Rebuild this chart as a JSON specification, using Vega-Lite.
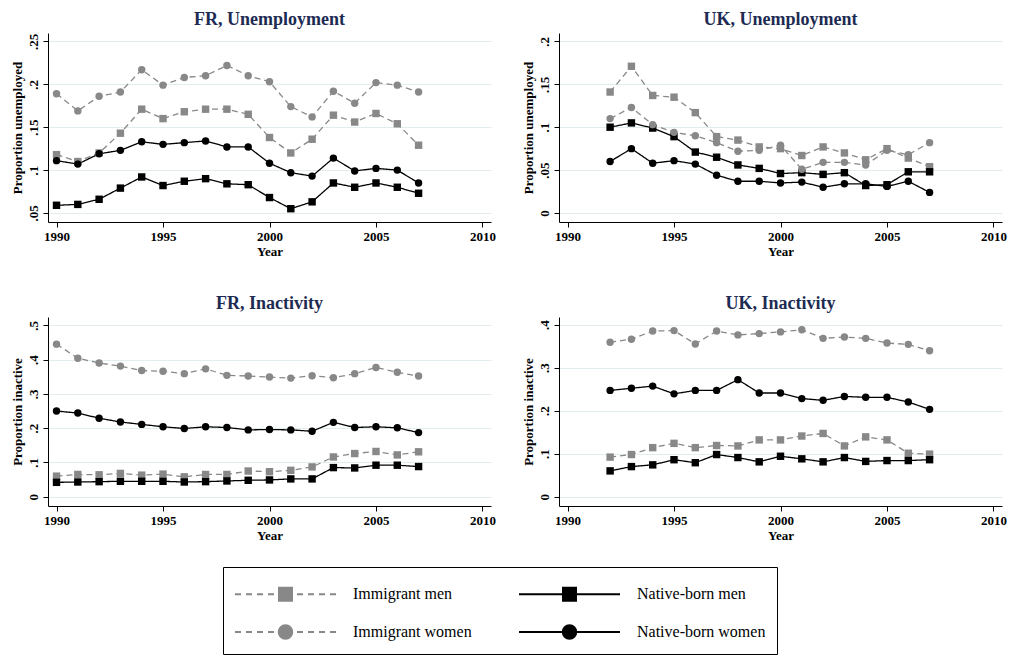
{
  "$schema": "https://vega.github.io/schema/vega-lite/v6.json",
  "background": "white",
  "padding": {"left": 11, "top": 11, "right": 0, "bottom": 0},
  "autosize": {"type": "pad"},
  "datasets": {
    "FR_unemployment": [
      {"series": "Immigrant men", "year": 1990, "value": 0.118},
      {"series": "Immigrant men", "year": 1991, "value": 0.110},
      {"series": "Immigrant men", "year": 1992, "value": 0.120},
      {"series": "Immigrant men", "year": 1993, "value": 0.143},
      {"series": "Immigrant men", "year": 1994, "value": 0.171},
      {"series": "Immigrant men", "year": 1995, "value": 0.160},
      {"series": "Immigrant men", "year": 1996, "value": 0.168},
      {"series": "Immigrant men", "year": 1997, "value": 0.171},
      {"series": "Immigrant men", "year": 1998, "value": 0.171},
      {"series": "Immigrant men", "year": 1999, "value": 0.165},
      {"series": "Immigrant men", "year": 2000, "value": 0.138},
      {"series": "Immigrant men", "year": 2001, "value": 0.120},
      {"series": "Immigrant men", "year": 2002, "value": 0.136},
      {"series": "Immigrant men", "year": 2003, "value": 0.164},
      {"series": "Immigrant men", "year": 2004, "value": 0.156},
      {"series": "Immigrant men", "year": 2005, "value": 0.166},
      {"series": "Immigrant men", "year": 2006, "value": 0.154},
      {"series": "Immigrant men", "year": 2007, "value": 0.129},
      {"series": "Immigrant women", "year": 1990, "value": 0.189},
      {"series": "Immigrant women", "year": 1991, "value": 0.169},
      {"series": "Immigrant women", "year": 1992, "value": 0.186},
      {"series": "Immigrant women", "year": 1993, "value": 0.191},
      {"series": "Immigrant women", "year": 1994, "value": 0.217},
      {"series": "Immigrant women", "year": 1995, "value": 0.199},
      {"series": "Immigrant women", "year": 1996, "value": 0.208},
      {"series": "Immigrant women", "year": 1997, "value": 0.210},
      {"series": "Immigrant women", "year": 1998, "value": 0.222},
      {"series": "Immigrant women", "year": 1999, "value": 0.210},
      {"series": "Immigrant women", "year": 2000, "value": 0.203},
      {"series": "Immigrant women", "year": 2001, "value": 0.174},
      {"series": "Immigrant women", "year": 2002, "value": 0.162},
      {"series": "Immigrant women", "year": 2003, "value": 0.192},
      {"series": "Immigrant women", "year": 2004, "value": 0.178},
      {"series": "Immigrant women", "year": 2005, "value": 0.202},
      {"series": "Immigrant women", "year": 2006, "value": 0.199},
      {"series": "Immigrant women", "year": 2007, "value": 0.191},
      {"series": "Native-born men", "year": 1990, "value": 0.059},
      {"series": "Native-born men", "year": 1991, "value": 0.060},
      {"series": "Native-born men", "year": 1992, "value": 0.066},
      {"series": "Native-born men", "year": 1993, "value": 0.079},
      {"series": "Native-born men", "year": 1994, "value": 0.092},
      {"series": "Native-born men", "year": 1995, "value": 0.082},
      {"series": "Native-born men", "year": 1996, "value": 0.087},
      {"series": "Native-born men", "year": 1997, "value": 0.090},
      {"series": "Native-born men", "year": 1998, "value": 0.084},
      {"series": "Native-born men", "year": 1999, "value": 0.083},
      {"series": "Native-born men", "year": 2000, "value": 0.068},
      {"series": "Native-born men", "year": 2001, "value": 0.055},
      {"series": "Native-born men", "year": 2002, "value": 0.063},
      {"series": "Native-born men", "year": 2003, "value": 0.085},
      {"series": "Native-born men", "year": 2004, "value": 0.080},
      {"series": "Native-born men", "year": 2005, "value": 0.085},
      {"series": "Native-born men", "year": 2006, "value": 0.080},
      {"series": "Native-born men", "year": 2007, "value": 0.073},
      {"series": "Native-born women", "year": 1990, "value": 0.111},
      {"series": "Native-born women", "year": 1991, "value": 0.107},
      {"series": "Native-born women", "year": 1992, "value": 0.119},
      {"series": "Native-born women", "year": 1993, "value": 0.123},
      {"series": "Native-born women", "year": 1994, "value": 0.133},
      {"series": "Native-born women", "year": 1995, "value": 0.130},
      {"series": "Native-born women", "year": 1996, "value": 0.132},
      {"series": "Native-born women", "year": 1997, "value": 0.134},
      {"series": "Native-born women", "year": 1998, "value": 0.127},
      {"series": "Native-born women", "year": 1999, "value": 0.127},
      {"series": "Native-born women", "year": 2000, "value": 0.108},
      {"series": "Native-born women", "year": 2001, "value": 0.097},
      {"series": "Native-born women", "year": 2002, "value": 0.093},
      {"series": "Native-born women", "year": 2003, "value": 0.114},
      {"series": "Native-born women", "year": 2004, "value": 0.099},
      {"series": "Native-born women", "year": 2005, "value": 0.102},
      {"series": "Native-born women", "year": 2006, "value": 0.100},
      {"series": "Native-born women", "year": 2007, "value": 0.085}
    ],
    "UK_unemployment": [
      {"series": "Immigrant men", "year": 1992, "value": 0.141},
      {"series": "Immigrant men", "year": 1993, "value": 0.171},
      {"series": "Immigrant men", "year": 1994, "value": 0.137},
      {"series": "Immigrant men", "year": 1995, "value": 0.135},
      {"series": "Immigrant men", "year": 1996, "value": 0.117},
      {"series": "Immigrant men", "year": 1997, "value": 0.089},
      {"series": "Immigrant men", "year": 1998, "value": 0.085},
      {"series": "Immigrant men", "year": 1999, "value": 0.077},
      {"series": "Immigrant men", "year": 2000, "value": 0.075},
      {"series": "Immigrant men", "year": 2001, "value": 0.067},
      {"series": "Immigrant men", "year": 2002, "value": 0.077},
      {"series": "Immigrant men", "year": 2003, "value": 0.070},
      {"series": "Immigrant men", "year": 2004, "value": 0.062},
      {"series": "Immigrant men", "year": 2005, "value": 0.075},
      {"series": "Immigrant men", "year": 2006, "value": 0.064},
      {"series": "Immigrant men", "year": 2007, "value": 0.054},
      {"series": "Immigrant women", "year": 1992, "value": 0.110},
      {"series": "Immigrant women", "year": 1993, "value": 0.123},
      {"series": "Immigrant women", "year": 1994, "value": 0.103},
      {"series": "Immigrant women", "year": 1995, "value": 0.094},
      {"series": "Immigrant women", "year": 1996, "value": 0.090},
      {"series": "Immigrant women", "year": 1997, "value": 0.082},
      {"series": "Immigrant women", "year": 1998, "value": 0.072},
      {"series": "Immigrant women", "year": 1999, "value": 0.073},
      {"series": "Immigrant women", "year": 2000, "value": 0.079},
      {"series": "Immigrant women", "year": 2001, "value": 0.051},
      {"series": "Immigrant women", "year": 2002, "value": 0.059},
      {"series": "Immigrant women", "year": 2003, "value": 0.059},
      {"series": "Immigrant women", "year": 2004, "value": 0.056},
      {"series": "Immigrant women", "year": 2005, "value": 0.073},
      {"series": "Immigrant women", "year": 2006, "value": 0.068},
      {"series": "Immigrant women", "year": 2007, "value": 0.082},
      {"series": "Native-born men", "year": 1992, "value": 0.100},
      {"series": "Native-born men", "year": 1993, "value": 0.105},
      {"series": "Native-born men", "year": 1994, "value": 0.099},
      {"series": "Native-born men", "year": 1995, "value": 0.089},
      {"series": "Native-born men", "year": 1996, "value": 0.071},
      {"series": "Native-born men", "year": 1997, "value": 0.065},
      {"series": "Native-born men", "year": 1998, "value": 0.056},
      {"series": "Native-born men", "year": 1999, "value": 0.052},
      {"series": "Native-born men", "year": 2000, "value": 0.046},
      {"series": "Native-born men", "year": 2001, "value": 0.047},
      {"series": "Native-born men", "year": 2002, "value": 0.045},
      {"series": "Native-born men", "year": 2003, "value": 0.047},
      {"series": "Native-born men", "year": 2004, "value": 0.032},
      {"series": "Native-born men", "year": 2005, "value": 0.033},
      {"series": "Native-born men", "year": 2006, "value": 0.048},
      {"series": "Native-born men", "year": 2007, "value": 0.048},
      {"series": "Native-born women", "year": 1992, "value": 0.060},
      {"series": "Native-born women", "year": 1993, "value": 0.075},
      {"series": "Native-born women", "year": 1994, "value": 0.058},
      {"series": "Native-born women", "year": 1995, "value": 0.061},
      {"series": "Native-born women", "year": 1996, "value": 0.057},
      {"series": "Native-born women", "year": 1997, "value": 0.044},
      {"series": "Native-born women", "year": 1998, "value": 0.037},
      {"series": "Native-born women", "year": 1999, "value": 0.037},
      {"series": "Native-born women", "year": 2000, "value": 0.035},
      {"series": "Native-born women", "year": 2001, "value": 0.036},
      {"series": "Native-born women", "year": 2002, "value": 0.030},
      {"series": "Native-born women", "year": 2003, "value": 0.034},
      {"series": "Native-born women", "year": 2004, "value": 0.034},
      {"series": "Native-born women", "year": 2005, "value": 0.031},
      {"series": "Native-born women", "year": 2006, "value": 0.037},
      {"series": "Native-born women", "year": 2007, "value": 0.024}
    ],
    "FR_inactivity": [
      {"series": "Immigrant men", "year": 1990, "value": 0.060},
      {"series": "Immigrant men", "year": 1991, "value": 0.065},
      {"series": "Immigrant men", "year": 1992, "value": 0.064},
      {"series": "Immigrant men", "year": 1993, "value": 0.068},
      {"series": "Immigrant men", "year": 1994, "value": 0.063},
      {"series": "Immigrant men", "year": 1995, "value": 0.066},
      {"series": "Immigrant men", "year": 1996, "value": 0.058},
      {"series": "Immigrant men", "year": 1997, "value": 0.065},
      {"series": "Immigrant men", "year": 1998, "value": 0.065},
      {"series": "Immigrant men", "year": 1999, "value": 0.075},
      {"series": "Immigrant men", "year": 2000, "value": 0.073},
      {"series": "Immigrant men", "year": 2001, "value": 0.077},
      {"series": "Immigrant men", "year": 2002, "value": 0.087},
      {"series": "Immigrant men", "year": 2003, "value": 0.116},
      {"series": "Immigrant men", "year": 2004, "value": 0.126},
      {"series": "Immigrant men", "year": 2005, "value": 0.132},
      {"series": "Immigrant men", "year": 2006, "value": 0.122},
      {"series": "Immigrant men", "year": 2007, "value": 0.131},
      {"series": "Immigrant women", "year": 1990, "value": 0.445},
      {"series": "Immigrant women", "year": 1991, "value": 0.404},
      {"series": "Immigrant women", "year": 1992, "value": 0.390},
      {"series": "Immigrant women", "year": 1993, "value": 0.381},
      {"series": "Immigrant women", "year": 1994, "value": 0.368},
      {"series": "Immigrant women", "year": 1995, "value": 0.366},
      {"series": "Immigrant women", "year": 1996, "value": 0.359},
      {"series": "Immigrant women", "year": 1997, "value": 0.373},
      {"series": "Immigrant women", "year": 1998, "value": 0.354},
      {"series": "Immigrant women", "year": 1999, "value": 0.352},
      {"series": "Immigrant women", "year": 2000, "value": 0.349},
      {"series": "Immigrant women", "year": 2001, "value": 0.346},
      {"series": "Immigrant women", "year": 2002, "value": 0.353},
      {"series": "Immigrant women", "year": 2003, "value": 0.347},
      {"series": "Immigrant women", "year": 2004, "value": 0.359},
      {"series": "Immigrant women", "year": 2005, "value": 0.377},
      {"series": "Immigrant women", "year": 2006, "value": 0.363},
      {"series": "Immigrant women", "year": 2007, "value": 0.352},
      {"series": "Native-born men", "year": 1990, "value": 0.042},
      {"series": "Native-born men", "year": 1991, "value": 0.043},
      {"series": "Native-born men", "year": 1992, "value": 0.044},
      {"series": "Native-born men", "year": 1993, "value": 0.045},
      {"series": "Native-born men", "year": 1994, "value": 0.045},
      {"series": "Native-born men", "year": 1995, "value": 0.045},
      {"series": "Native-born men", "year": 1996, "value": 0.043},
      {"series": "Native-born men", "year": 1997, "value": 0.044},
      {"series": "Native-born men", "year": 1998, "value": 0.046},
      {"series": "Native-born men", "year": 1999, "value": 0.048},
      {"series": "Native-born men", "year": 2000, "value": 0.049},
      {"series": "Native-born men", "year": 2001, "value": 0.052},
      {"series": "Native-born men", "year": 2002, "value": 0.052},
      {"series": "Native-born men", "year": 2003, "value": 0.085},
      {"series": "Native-born men", "year": 2004, "value": 0.084},
      {"series": "Native-born men", "year": 2005, "value": 0.092},
      {"series": "Native-born men", "year": 2006, "value": 0.092},
      {"series": "Native-born men", "year": 2007, "value": 0.088},
      {"series": "Native-born women", "year": 1990, "value": 0.250},
      {"series": "Native-born women", "year": 1991, "value": 0.244},
      {"series": "Native-born women", "year": 1992, "value": 0.229},
      {"series": "Native-born women", "year": 1993, "value": 0.218},
      {"series": "Native-born women", "year": 1994, "value": 0.211},
      {"series": "Native-born women", "year": 1995, "value": 0.204},
      {"series": "Native-born women", "year": 1996, "value": 0.199},
      {"series": "Native-born women", "year": 1997, "value": 0.204},
      {"series": "Native-born women", "year": 1998, "value": 0.202},
      {"series": "Native-born women", "year": 1999, "value": 0.195},
      {"series": "Native-born women", "year": 2000, "value": 0.196},
      {"series": "Native-born women", "year": 2001, "value": 0.195},
      {"series": "Native-born women", "year": 2002, "value": 0.191},
      {"series": "Native-born women", "year": 2003, "value": 0.217},
      {"series": "Native-born women", "year": 2004, "value": 0.202},
      {"series": "Native-born women", "year": 2005, "value": 0.204},
      {"series": "Native-born women", "year": 2006, "value": 0.201},
      {"series": "Native-born women", "year": 2007, "value": 0.187}
    ],
    "UK_inactivity": [
      {"series": "Immigrant men", "year": 1992, "value": 0.092},
      {"series": "Immigrant men", "year": 1993, "value": 0.098},
      {"series": "Immigrant men", "year": 1994, "value": 0.114},
      {"series": "Immigrant men", "year": 1995, "value": 0.124},
      {"series": "Immigrant men", "year": 1996, "value": 0.114},
      {"series": "Immigrant men", "year": 1997, "value": 0.119},
      {"series": "Immigrant men", "year": 1998, "value": 0.118},
      {"series": "Immigrant men", "year": 1999, "value": 0.132},
      {"series": "Immigrant men", "year": 2000, "value": 0.132},
      {"series": "Immigrant men", "year": 2001, "value": 0.141},
      {"series": "Immigrant men", "year": 2002, "value": 0.147},
      {"series": "Immigrant men", "year": 2003, "value": 0.118},
      {"series": "Immigrant men", "year": 2004, "value": 0.139},
      {"series": "Immigrant men", "year": 2005, "value": 0.132},
      {"series": "Immigrant men", "year": 2006, "value": 0.101},
      {"series": "Immigrant men", "year": 2007, "value": 0.099},
      {"series": "Immigrant women", "year": 1992, "value": 0.359},
      {"series": "Immigrant women", "year": 1993, "value": 0.366},
      {"series": "Immigrant women", "year": 1994, "value": 0.385},
      {"series": "Immigrant women", "year": 1995, "value": 0.386},
      {"series": "Immigrant women", "year": 1996, "value": 0.355},
      {"series": "Immigrant women", "year": 1997, "value": 0.385},
      {"series": "Immigrant women", "year": 1998, "value": 0.376},
      {"series": "Immigrant women", "year": 1999, "value": 0.379},
      {"series": "Immigrant women", "year": 2000, "value": 0.383},
      {"series": "Immigrant women", "year": 2001, "value": 0.388},
      {"series": "Immigrant women", "year": 2002, "value": 0.368},
      {"series": "Immigrant women", "year": 2003, "value": 0.371},
      {"series": "Immigrant women", "year": 2004, "value": 0.368},
      {"series": "Immigrant women", "year": 2005, "value": 0.357},
      {"series": "Immigrant women", "year": 2006, "value": 0.354},
      {"series": "Immigrant women", "year": 2007, "value": 0.339},
      {"series": "Native-born men", "year": 1992, "value": 0.060},
      {"series": "Native-born men", "year": 1993, "value": 0.070},
      {"series": "Native-born men", "year": 1994, "value": 0.074},
      {"series": "Native-born men", "year": 1995, "value": 0.086},
      {"series": "Native-born men", "year": 1996, "value": 0.079},
      {"series": "Native-born men", "year": 1997, "value": 0.098},
      {"series": "Native-born men", "year": 1998, "value": 0.091},
      {"series": "Native-born men", "year": 1999, "value": 0.081},
      {"series": "Native-born men", "year": 2000, "value": 0.094},
      {"series": "Native-born men", "year": 2001, "value": 0.088},
      {"series": "Native-born men", "year": 2002, "value": 0.081},
      {"series": "Native-born men", "year": 2003, "value": 0.091},
      {"series": "Native-born men", "year": 2004, "value": 0.082},
      {"series": "Native-born men", "year": 2005, "value": 0.084},
      {"series": "Native-born men", "year": 2006, "value": 0.084},
      {"series": "Native-born men", "year": 2007, "value": 0.086},
      {"series": "Native-born women", "year": 1992, "value": 0.247},
      {"series": "Native-born women", "year": 1993, "value": 0.252},
      {"series": "Native-born women", "year": 1994, "value": 0.257},
      {"series": "Native-born women", "year": 1995, "value": 0.239},
      {"series": "Native-born women", "year": 1996, "value": 0.247},
      {"series": "Native-born women", "year": 1997, "value": 0.247},
      {"series": "Native-born women", "year": 1998, "value": 0.272},
      {"series": "Native-born women", "year": 1999, "value": 0.241},
      {"series": "Native-born women", "year": 2000, "value": 0.241},
      {"series": "Native-born women", "year": 2001, "value": 0.228},
      {"series": "Native-born women", "year": 2002, "value": 0.224},
      {"series": "Native-born women", "year": 2003, "value": 0.233},
      {"series": "Native-born women", "year": 2004, "value": 0.231},
      {"series": "Native-born women", "year": 2005, "value": 0.231},
      {"series": "Native-born women", "year": 2006, "value": 0.220},
      {"series": "Native-born women", "year": 2007, "value": 0.203}
    ]
  },
  "columns": 2,
  "spacing": {"row": 95, "column": 68},
  "bounds": "flush",
  "concat": [
    {
      "title": "FR, Unemployment",
      "width": 443, "height": 189,
      "data": {"name": "FR_unemployment"},
      "encoding": {
        "x": {"field": "year", "type": "quantitative", "scale": {"domain": [1989.6, 2010.4], "nice": false, "zero": false}, "axis": {"values": [1990, 1995, 2000, 2005, 2010], "format": "d", "title": "Year"}},
        "y": {"field": "value", "type": "quantitative", "scale": {"domain": [0.0395, 0.2598], "nice": false, "zero": false}, "axis": {"values": [0.05, 0.1, 0.15, 0.2, 0.25], "title": "Proportion unemployed"}},
        "color": {"field": "series", "type": "nominal", "scale": {"domain": ["Native-born women", "Native-born men", "Immigrant women", "Immigrant men"], "range": ["#000000", "#000000", "#888888", "#888888"]}, "legend": null}
      },
      "layer": [
        {"mark": {"type": "line", "strokeWidth": 1.3}, "encoding": {"strokeDash": {"field": "series", "type": "nominal", "scale": {"domain": ["Native-born men", "Native-born women", "Immigrant men", "Immigrant women"], "range": [[1, 0], [1, 0], [6, 4], [6, 4]]}, "legend": null}}},
        {"transform": [{"filter": "datum.series == 'Immigrant men' || datum.series == 'Native-born men'"}], "mark": {"type": "point", "shape": "square", "filled": true, "size": 55, "opacity": 1}},
        {"transform": [{"filter": "datum.series == 'Immigrant women' || datum.series == 'Native-born women'"}], "mark": {"type": "point", "shape": "circle", "filled": true, "size": 55, "opacity": 1}},
        {
          "transform": [{"filter": "false"}],
          "mark": {"type": "point", "filled": true, "opacity": 1},
          "encoding": {
            "fill": {"field": "series", "type": "nominal", "scale": {"domain": ["Immigrant men", "Immigrant women", "Native-born men", "Native-born women"], "range": ["#888888", "#888888", "#000000", "#000000"]}},
            "stroke": {"field": "series", "type": "nominal", "scale": {"domain": ["Immigrant men", "Immigrant women", "Native-born men", "Native-born women"], "range": ["#888888", "#888888", "#000000", "#000000"]}},
            "shape": {"field": "series", "type": "nominal",
              "scale": {"domain": ["Immigrant men", "Immigrant women", "Native-born men", "Native-born women"],
                "range": [
                  "M-3.367,0H-2.967M-2.633,0H-2.233M-1.9,0H-1.5M-1.167,0H-0.767M0.767,0H1.167M1.5,0H1.9M2.233,0H2.633M2.967,0H3.367M-0.433,-0.433H0.433V0.433H-0.433Z",
                  "M-3.367,0H-2.967M-2.633,0H-2.233M-1.9,0H-1.5M-1.167,0H-0.767M0.767,0H1.167M1.5,0H1.9M2.233,0H2.633M2.967,0H3.367M0.45,0A0.45,0.45,0,1,1,-0.45,0A0.45,0.45,0,1,1,0.45,0Z",
                  "M-3.367,0H3.367M-0.433,-0.433H0.433V0.433H-0.433Z",
                  "M-3.367,0H3.367M0.45,0A0.45,0.45,0,1,1,-0.45,0A0.45,0.45,0,1,1,0.45,0Z"
                ]},
              "legend": {
                "title": null, "orient": "none", "legendX": 175, "legendY": 534,
                "columns": 2, "columnPadding": 42, "rowPadding": 11, "padding": 11,
                "strokeColor": "black",
                "symbolSize": 900, "symbolStrokeWidth": 2, "symbolOffset": 35.5, "labelOffset": 51.5,
                "labelFont": "Liberation Serif", "labelFontSize": 16, "labelColor": "black"
              }
            }
          }
        }
      ]
    },
    {
      "title": "UK, Unemployment",
      "width": 443, "height": 189,
      "data": {"name": "UK_unemployment"},
      "encoding": {
        "x": {"field": "year", "type": "quantitative", "scale": {"domain": [1989.6, 2010.4], "nice": false, "zero": false}, "axis": {"values": [1990, 1995, 2000, 2005, 2010], "format": "d", "title": "Year"}},
        "y": {"field": "value", "type": "quantitative", "scale": {"domain": [-0.0105, 0.2098], "nice": false, "zero": false}, "axis": {"values": [0, 0.05, 0.1, 0.15, 0.2], "title": "Proportion unemployed"}},
        "color": {"field": "series", "type": "nominal", "scale": {"domain": ["Native-born women", "Native-born men", "Immigrant women", "Immigrant men"], "range": ["#000000", "#000000", "#888888", "#888888"]}, "legend": null}
      },
      "layer": [
        {"mark": {"type": "line", "strokeWidth": 1.3}, "encoding": {"strokeDash": {"field": "series", "type": "nominal", "scale": {"domain": ["Native-born men", "Native-born women", "Immigrant men", "Immigrant women"], "range": [[1, 0], [1, 0], [6, 4], [6, 4]]}, "legend": null}}},
        {"transform": [{"filter": "datum.series == 'Immigrant men' || datum.series == 'Native-born men'"}], "mark": {"type": "point", "shape": "square", "filled": true, "size": 55, "opacity": 1}},
        {"transform": [{"filter": "datum.series == 'Immigrant women' || datum.series == 'Native-born women'"}], "mark": {"type": "point", "shape": "circle", "filled": true, "size": 55, "opacity": 1}}
      ]
    },
    {
      "title": "FR, Inactivity",
      "width": 443, "height": 189,
      "data": {"name": "FR_inactivity"},
      "encoding": {
        "x": {"field": "year", "type": "quantitative", "scale": {"domain": [1989.6, 2010.4], "nice": false, "zero": false}, "axis": {"values": [1990, 1995, 2000, 2005, 2010], "format": "d", "title": "Year"}},
        "y": {"field": "value", "type": "quantitative", "scale": {"domain": [-0.027, 0.5242], "nice": false, "zero": false}, "axis": {"values": [0, 0.1, 0.2, 0.3, 0.4, 0.5], "title": "Proportion inactive"}},
        "color": {"field": "series", "type": "nominal", "scale": {"domain": ["Native-born women", "Native-born men", "Immigrant women", "Immigrant men"], "range": ["#000000", "#000000", "#888888", "#888888"]}, "legend": null}
      },
      "layer": [
        {"mark": {"type": "line", "strokeWidth": 1.3}, "encoding": {"strokeDash": {"field": "series", "type": "nominal", "scale": {"domain": ["Native-born men", "Native-born women", "Immigrant men", "Immigrant women"], "range": [[1, 0], [1, 0], [6, 4], [6, 4]]}, "legend": null}}},
        {"transform": [{"filter": "datum.series == 'Immigrant men' || datum.series == 'Native-born men'"}], "mark": {"type": "point", "shape": "square", "filled": true, "size": 55, "opacity": 1}},
        {"transform": [{"filter": "datum.series == 'Immigrant women' || datum.series == 'Native-born women'"}], "mark": {"type": "point", "shape": "circle", "filled": true, "size": 55, "opacity": 1}}
      ]
    },
    {
      "title": "UK, Inactivity",
      "width": 443, "height": 189,
      "data": {"name": "UK_inactivity"},
      "encoding": {
        "x": {"field": "year", "type": "quantitative", "scale": {"domain": [1989.6, 2010.4], "nice": false, "zero": false}, "axis": {"values": [1990, 1995, 2000, 2005, 2010], "format": "d", "title": "Year"}},
        "y": {"field": "value", "type": "quantitative", "scale": {"domain": [-0.0216, 0.4176], "nice": false, "zero": false}, "axis": {"values": [0, 0.1, 0.2, 0.3, 0.4], "title": "Proportion inactive"}},
        "color": {"field": "series", "type": "nominal", "scale": {"domain": ["Native-born women", "Native-born men", "Immigrant women", "Immigrant men"], "range": ["#000000", "#000000", "#888888", "#888888"]}, "legend": null}
      },
      "layer": [
        {"mark": {"type": "line", "strokeWidth": 1.3}, "encoding": {"strokeDash": {"field": "series", "type": "nominal", "scale": {"domain": ["Native-born men", "Native-born women", "Immigrant men", "Immigrant women"], "range": [[1, 0], [1, 0], [6, 4], [6, 4]]}, "legend": null}}},
        {"transform": [{"filter": "datum.series == 'Immigrant men' || datum.series == 'Native-born men'"}], "mark": {"type": "point", "shape": "square", "filled": true, "size": 55, "opacity": 1}},
        {"transform": [{"filter": "datum.series == 'Immigrant women' || datum.series == 'Native-born women'"}], "mark": {"type": "point", "shape": "circle", "filled": true, "size": 55, "opacity": 1}}
      ]
    }
  ],
  "config": {
    "font": "Liberation Serif",
    "view": {"stroke": null},
    "axis": {
      "labelFont": "Liberation Serif", "labelFontSize": 13, "labelFontWeight": "bold", "labelColor": "black",
      "titleFont": "Liberation Serif", "titleFontSize": 13, "titleFontWeight": "bold", "titleColor": "black",
      "domainColor": "black", "domainWidth": 1, "tickColor": "black", "tickSize": 5, "tickWidth": 1,
      "gridColor": "#e3ecee", "gridWidth": 1, "labelOverlap": false
    },
    "axisX": {"grid": false, "labelPadding": 3, "titlePadding": 2, "labelFlush": false},
    "axisY": {"grid": true, "labelAngle": -90, "labelAlign": "center", "labelBaseline": "bottom", "labelPadding": 3, "titlePadding": 3,
      "labelExpr": "datum.value == 0 ? '0' : replace(format(datum.value, '.2~f'), '0.', '.')"},
    "title": {"font": "Liberation Serif", "fontSize": 18, "fontWeight": "bold", "color": "#1d2b53", "anchor": "middle", "frame": "group", "offset": 4, "baseline": "bottom"}
  }
}
